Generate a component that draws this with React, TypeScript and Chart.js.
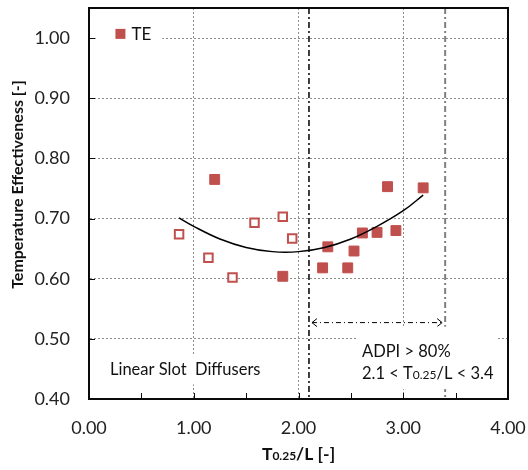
import React, { useEffect, useRef } from "react";
import { Chart, registerables } from "chart.js";

Chart.register(...registerables);

// ---- data ----
const xTickValues = [0, 1, 2, 3, 4];
const yTickValues = [0.4, 0.5, 0.6, 0.7, 0.8, 0.9, 1.0];
const xMinorTicks = [0.5, 1.5, 2.5, 3.5];

const openX = [0.86, 1.14, 1.37, 1.58, 1.85, 1.94];
const openY = [0.674, 0.635, 0.602, 0.693, 0.703, 0.667];

const filledX = [1.2, 1.85, 2.23, 2.28, 2.47, 2.53, 2.61, 2.75, 2.93, 2.85, 3.19];
const filledY = [0.765, 0.604, 0.618, 0.653, 0.618, 0.646, 0.676, 0.677, 0.68, 0.753, 0.751];

const trendX = [0.86, 1.0, 1.25, 1.5, 1.75, 2.0, 2.25, 2.5, 2.75, 3.0, 3.19];
const trendY = [0.701, 0.687, 0.666, 0.652, 0.645, 0.645, 0.652, 0.666, 0.687, 0.713, 0.739];

const adpiLimits = [2.1, 3.4];
const arrowY = 0.527;

const legendLabel = "TE";
const slotLabel = "Linear Slot  Diffusers";
const adpiLabel = "ADPI > 80%";

const FONT = "Lato, 'Open Sans', sans-serif";
const RED = "#C0504D";
const FRAME = "#0a0a0a";

type Seg = { t: string; s: number };

function richWidth(ctx: CanvasRenderingContext2D, segs: Seg[], weight: string) {
  let w = 0;
  for (const g of segs) {
    ctx.font = `${weight} ${g.s}px ${FONT}`;
    w += ctx.measureText(g.t).width;
  }
  return w;
}

function drawRich(
  ctx: CanvasRenderingContext2D,
  segs: Seg[],
  x: number,
  y: number,
  weight: string,
  align: "left" | "center"
) {
  const w = richWidth(ctx, segs, weight);
  let cx = align === "center" ? x - w / 2 : x;
  ctx.textAlign = "left";
  ctx.textBaseline = "alphabetic";
  for (const g of segs) {
    ctx.font = `${weight} ${g.s}px ${FONT}`;
    ctx.fillText(g.t, cx, y);
    cx += ctx.measureText(g.t).width;
  }
}

function frame(chart: any) {
  const ctx: CanvasRenderingContext2D = chart.ctx;
  const a = chart.chartArea;
  const xs = chart.scales.x;
  const ys = chart.scales.y;
  ctx.save();
  ctx.setLineDash([]);
  ctx.strokeStyle = FRAME;
  ctx.lineWidth = 2;
  ctx.beginPath();
  ctx.rect(a.left, a.top, a.right - a.left, a.bottom - a.top);
  ctx.stroke();
  ctx.lineWidth = 1;
  ctx.beginPath();
  const xt = xMinorTicks.concat(xTickValues);
  for (let i = 0; i < xt.length; i++) {
    const px = Math.round(xs.getPixelForValue(xt[i])) + 0.5;
    ctx.moveTo(px, a.bottom);
    ctx.lineTo(px, a.bottom - 6);
  }
  for (let i = 0; i < yTickValues.length; i++) {
    const py = Math.round(ys.getPixelForValue(yTickValues[i])) + 0.5;
    ctx.moveTo(a.left, py);
    ctx.lineTo(a.left + 6, py);
  }
  ctx.stroke();
  ctx.restore();
}

export default function App() {
  const ref = useRef<HTMLCanvasElement>(null);

  useEffect(() => {
    document.body.style.margin = "0";
    const canvas = ref.current!;

    const overlay = {
      id: "overlay",
      beforeDatasetsDraw(chart: any) {
        const ctx: CanvasRenderingContext2D = chart.ctx;
        const xs = chart.scales.x;
        const ys = chart.scales.y;
        const a = chart.chartArea;
        ctx.save();

        // vertical dash-dot limits
        const x1 = xs.getPixelForValue(adpiLimits[0]);
        const x2 = xs.getPixelForValue(adpiLimits[1]);
        ctx.setLineDash([6, 3, 2, 3]);
        ctx.lineWidth = 1.5;
        ctx.strokeStyle = "#000";
        ctx.beginPath();
        ctx.moveTo(x1, a.top);
        ctx.lineTo(x1, a.bottom);
        ctx.stroke();
        ctx.strokeStyle = "#808080";
        ctx.lineWidth = 2;
        ctx.beginPath();
        ctx.moveTo(x2, a.top);
        ctx.lineTo(x2, a.bottom);
        ctx.stroke();

        // double arrow
        const ay = ys.getPixelForValue(arrowY);
        ctx.strokeStyle = "#000";
        ctx.lineWidth = 1;
        ctx.setLineDash([5, 3, 1, 3]);
        ctx.beginPath();
        ctx.moveTo(x1 + 3, ay);
        ctx.lineTo(x2 - 3, ay);
        ctx.stroke();
        ctx.setLineDash([]);
        ctx.beginPath();
        ctx.moveTo(x1 + 8, ay - 4);
        ctx.lineTo(x1 + 3, ay);
        ctx.lineTo(x1 + 8, ay + 4);
        ctx.moveTo(x2 - 8, ay - 4);
        ctx.lineTo(x2 - 3, ay);
        ctx.lineTo(x2 - 8, ay + 4);
        ctx.stroke();

        // ADPI text box
        const bx = xs.getPixelForValue(2.606);
        const l1 = ys.getPixelForValue(0.479);
        const l2 = ys.getPixelForValue(0.443);
        ctx.fillStyle = "#fff";
        ctx.fillRect(bx - 4, ay + 4, 140, l2 + 16 - (ay + 4));
        ctx.fillStyle = "#111";
        ctx.font = `16.5px ${FONT}`;
        ctx.textBaseline = "middle";
        ctx.textAlign = "left";
        ctx.fillText(adpiLabel, bx, l1);
        drawRich(
          ctx,
          [
            { t: "2.1 < T", s: 16.5 },
            { t: "0.25", s: 12 },
            { t: "/L < 3.4", s: 16.5 },
          ],
          bx,
          l2 + 6,
          "normal",
          "left"
        );

        // Linear slot text box
        const sx = xs.getPixelForValue(0.2);
        const sy = ys.getPixelForValue(0.449);
        ctx.font = `16.5px ${FONT}`;
        const sw = ctx.measureText(slotLabel).width;
        ctx.fillStyle = "#fff";
        ctx.fillRect(sx - 5, sy - 15, sw + 10, 30);
        ctx.fillStyle = "#111";
        ctx.textBaseline = "middle";
        ctx.fillText(slotLabel, sx, sy);

        // legend
        const lx = xs.getPixelForValue(0.3);
        const ly = ys.getPixelForValue(1.007);
        ctx.fillStyle = "#fff";
        ctx.fillRect(lx - 24, ly - 14, 66, 28);
        ctx.fillStyle = RED;
        ctx.fillRect(lx - 5, ly - 5, 10, 10);
        ctx.fillStyle = "#111";
        ctx.font = `17px ${FONT}`;
        ctx.textBaseline = "middle";
        ctx.fillText(legendLabel, lx + 11, ly + 1);
        ctx.restore();

        frame(chart);
      },
      afterDraw(chart: any) {
        frame(chart);
        const ctx: CanvasRenderingContext2D = chart.ctx;
        const a = chart.chartArea;
        ctx.save();
        ctx.fillStyle = "#111";
        drawRich(
          ctx,
          [
            { t: "T", s: 17.5 },
            { t: "0.25", s: 12 },
            { t: "/L [-]", s: 17.5 },
          ],
          (a.left + a.right) / 2,
          460,
          "bold",
          "center"
        );
        ctx.translate(18, 184.5);
        ctx.rotate(-Math.PI / 2);
        ctx.font = `bold 16px ${FONT}`;
        ctx.textAlign = "center";
        ctx.textBaseline = "middle";
        ctx.fillText("Temperature Effectiveness [-]", 0, 0);
        ctx.restore();
      },
    };

    const zeroPad = (s: any) => {
      s.paddingTop = 0;
      s.paddingBottom = 0;
      s.paddingLeft = 0;
      s.paddingRight = 0;
    };

    const chart = new Chart(canvas, {
      type: "scatter",
      data: {
        datasets: [
          {
            label: "trend",
            type: "line",
            data: trendX.map((x, i) => ({ x, y: trendY[i] })),
            borderColor: "#000",
            borderWidth: 1.5,
            pointRadius: 0,
            tension: 0.4,
            fill: false,
          } as any,
          {
            label: "open",
            data: openX.map((x, i) => ({ x, y: openY[i] })),
            pointStyle: "rect",
            pointRadius: 6,
            backgroundColor: "#fff",
            borderColor: RED,
            borderWidth: 2,
          },
          {
            label: legendLabel,
            data: filledX.map((x, i) => ({ x, y: filledY[i] })),
            pointStyle: "rect",
            pointRadius: 7,
            backgroundColor: RED,
            borderColor: RED,
            borderWidth: 1,
          },
        ],
      },
      options: {
        responsive: false,
        animation: false,
        layout: { padding: { left: 0, top: 7, right: 20, bottom: 0 } },
        plugins: { legend: { display: false }, tooltip: { enabled: false } },
        scales: {
          x: {
            type: "linear",
            min: 0,
            max: 4,
            afterBuildTicks: (s: any) => {
              s.ticks = xTickValues.map((v) => ({ value: v }));
            },
            afterFit: (s: any) => {
              s.height = 71;
              zeroPad(s);
            },
            grid: { color: "#8c8c8c", lineWidth: 1, drawTicks: false },
            border: { display: true, color: FRAME, width: 2, dash: [2, 2] },
            ticks: {
              padding: 18,
              maxRotation: 0,
              color: "#222",
              font: { family: FONT, size: 18 },
              callback: (v: any) => Number(v).toFixed(2),
            },
          },
          y: {
            type: "linear",
            min: 0.4,
            max: 1.05,
            afterBuildTicks: (s: any) => {
              s.ticks = yTickValues.map((v) => ({ value: v }));
            },
            afterFit: (s: any) => {
              s.width = 89;
              zeroPad(s);
            },
            grid: { color: "#8c8c8c", lineWidth: 1, drawTicks: false },
            border: { display: true, color: FRAME, width: 2, dash: [2, 2] },
            ticks: {
              padding: 19,
              color: "#222",
              font: { family: FONT, size: 18 },
              callback: (v: any) => Number(v).toFixed(2),
            },
          },
        },
      } as any,
      plugins: [overlay],
    });
    return () => chart.destroy();
  }, []);

  return <canvas ref={ref} width={528} height={470} style={{ display: "block" }} />;
}
